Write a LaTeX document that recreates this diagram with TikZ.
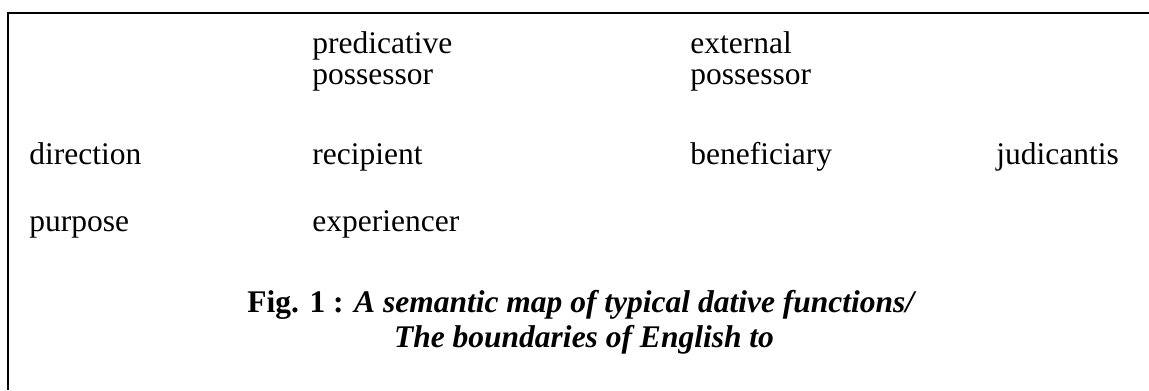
\documentclass[tikz,border=0pt]{standalone}
\usepackage{fontspec}
\setmainfont{Liberation Serif}
\begin{document}
\begin{tikzpicture}[x=0.4444pt,y=-0.4444pt,
  term/.style={anchor=base west,inner sep=0pt,font=\fontsize{14}{15.6}\selectfont,align=left},
  capline/.style={anchor=base,inner sep=0pt,font=\fontsize{14}{15.6}\selectfont\bfseries},
  frame/.style={line width=1.1pt,black}]
\useasboundingbox (0,0) rectangle (1149,390);
\coordinate (tr) at (1149,13);
\coordinate (tl) at (8,13);
\coordinate (bl) at (8,390);
\draw[frame] (tr) -- (tl) -- (bl);
\node[term] (pp1) at (312,53) {predicative};
\node[term] (pp2) at (312,84) {possessor};
\node[term] (ep1) at (690,53) {external};
\node[term] (ep2) at (690,84) {possessor};
\node[term] (dir) at (29,164) {direction};
\node[term] (rec) at (312,164) {recipient};
\node[term] (ben) at (690,164) {beneficiary};
\node[term] (jud) at (996,164) {judicantis};
\node[term] (pur) at (29,231) {purpose};
\node[term] (exp) at (312,231) {experiencer};
\node[capline] (cap1) at (582,312) {Fig. 1 : \textit{A semantic map of typical dative functions/}};
\node[capline] (cap2) at (584,347) {\textit{The boundaries of English to}};
\end{tikzpicture}
\end{document}
